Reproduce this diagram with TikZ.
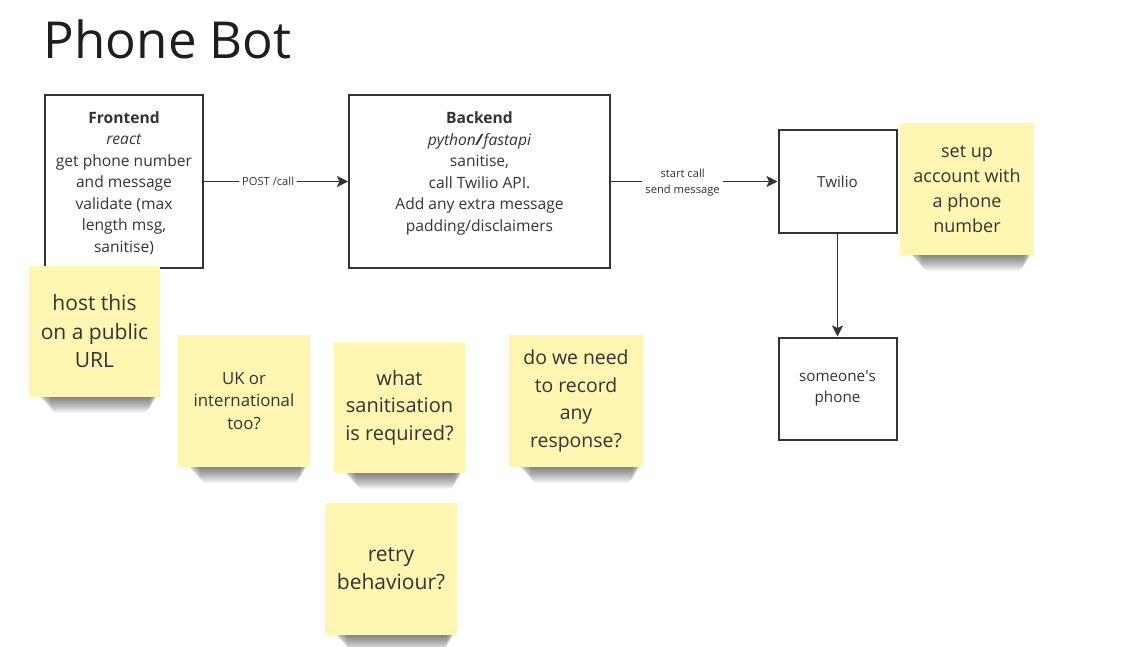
\documentclass[tikz,border=0pt]{standalone}
\usepackage{fontspec}
\setmainfont{Open Sans}
\usetikzlibrary{arrows.meta,backgrounds}
\definecolor{ink}{HTML}{333333}
\definecolor{titleink}{HTML}{1E1E1E}
\definecolor{sticky}{HTML}{FFF6B1}
\begin{document}
\begin{tikzpicture}[x=1pt,y=-1pt,
 box/.style={draw=ink,line width=2pt,inner sep=0pt,text=ink,align=center,font=\fontsize{15.2}{21}\selectfont},
 txt/.style={text=ink,align=center,font=\fontsize{15.6}{21.5}\selectfont,inner sep=0pt},
 arr/.style={draw=ink,line width=1.8pt,-{Stealth[length=11pt,width=11pt,inset=2.5pt]}},
 lbl/.style={fill=white,text=ink,font=\fontsize{11.2}{16.5}\selectfont,align=center,inner sep=3pt},
 note/.style={fill=sticky,inner sep=0pt,text=ink,align=center}
]
\useasboundingbox (0,0) rectangle (1126,647);

\node[anchor=base west,inner sep=0pt,text=titleink,font=\fontsize{51}{60}\selectfont] (title) at (43.7,58.5) {Phone Bot};

% boxes
\node[box,minimum width=158pt,minimum height=173pt] (frontend) at (124,181.5) {};
\node[box,minimum width=261pt,minimum height=173pt] (backend) at (479.5,181.5) {};
\node[box,minimum width=118pt,minimum height=102pt] (twilio) at (837.5,181.5) {Twilio};
\node[box,minimum width=118pt,minimum height=102pt] (phone) at (837.5,388.5) {someone\textquotesingle s\\phone};

\node[txt] (fronttxt) at (124,183) {\textbf{Frontend}\\\textit{react}\\get phone number\\and message\\validate (max\\length msg,\\sanitise)};
\node[txt] (backtxt) at (479.5,173.5) {\textbf{Backend}\\\textit{python}\textbf{\textit{/}}\textit{fastapi}\\sanitise,\\call Twilio API.\\Add any extra message\\padding/disclaimers};

% connectors
\draw[arr] (frontend) -- node[lbl,pos=0.445] (postlbl) {POST /call} (backend);
\draw[arr] (backend) -- node[lbl,pos=0.43,yshift=-1pt] (calllbl) {start call\\send message} (twilio);
\draw[arr] (twilio) -- (phone);

% sticky notes
\node[note,minimum width=131pt,minimum height=131pt,font=\fontsize{21}{28.5}\selectfont] (n1) at (94.5,331.5) {host this\\on a public\\URL};
\node[note,minimum width=132pt,minimum height=132pt,font=\fontsize{16.8}{22.5}\selectfont] (n2) at (244,401) {UK or\\international\\too?};
\node[note,minimum width=131pt,minimum height=131pt,font=\fontsize{20}{27.5}\selectfont] (n3) at (399.5,407.5) {what\\sanitisation\\is required?};
\node[note,minimum width=132pt,minimum height=132pt,font=\fontsize{21}{28}\selectfont] (n4) at (391,569) {retry\\behaviour?};
\node[note,minimum width=134pt,minimum height=132pt,font=\fontsize{19.4}{27.5}\selectfont] (n5) at (576,401) {do we need\\to record\\any\\response?};
\node[note,minimum width=134pt,minimum height=132pt,font=\fontsize{18}{25}\selectfont] (n6) at (967,189) {set up\\account with\\a phone\\number};

\begin{pgfonlayer}{background}
\foreach \n in {n1,n2,n3,n4,n5,n6}{
  \foreach \d in {1,...,16}{
    \pgfmathsetmacro\li{8+0.9*\d}
    \pgfmathsetmacro\ri{1+0.6*\d}
    \fill[black,opacity=0.04,rounded corners=7pt] ([xshift=\li pt,yshift=10pt]\n.south west) rectangle ([xshift=-\ri pt,yshift=-\d pt]\n.south east);
  }
}
\end{pgfonlayer}
\end{tikzpicture}
\end{document}
